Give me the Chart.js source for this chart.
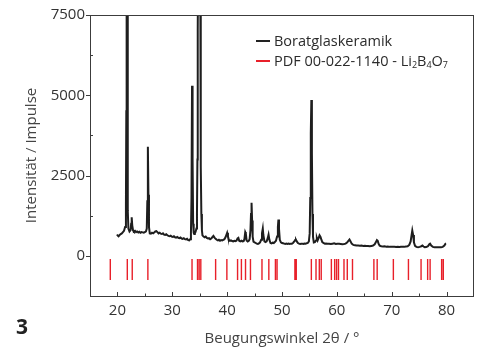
<!DOCTYPE html>
<html>
<head>
<meta charset="utf-8">
<script src="https://cdn.jsdelivr.net/npm/chart.js@4.4.1/dist/chart.umd.min.js"></script>
<style>
  html, body { margin: 0; padding: 0; background: #fff; }
  #wrap { position: relative; width: 478px; height: 349px; font-family: "Open Sans", sans-serif; }
  #xrd { position: absolute; left: 0; top: 0; }
  .leg { position: absolute; left: 256px; font-size: 14.5px; color: #2b2b2b; line-height: 18px; white-space: nowrap; }
  .leg i { display: inline-block; width: 14px; height: 2px; vertical-align: middle; margin-right: 4px; position: relative; top: -1px; }
  .leg sub { font-size: 9px; vertical-align: -2px; line-height: 0; }
  #fig { position: absolute; left: 16px; top: 312px; font-size: 21px; font-weight: bold; color: #222; }
</style>
</head>
<body>
<div id="wrap">
  <canvas id="xrd" width="478" height="349"></canvas>
  <div class="leg" style="top:32px"><i style="background:#222"></i>Boratglaskeramik</div>
  <div class="leg" style="top:52px"><i style="background:#e8202a;height:1.5px"></i>PDF 00-022-1140 - Li<sub>2</sub>B<sub>4</sub>O<sub>7</sub></div>
  <div id="fig">3</div>
</div>
<script>
// Messkurve: [2theta, Impulse]
const messung = [
  [19.9, 620], [20.0, 640], [20.2, 610], [20.4, 650], [20.6, 680], [20.8, 700], [21.0, 740], [21.2, 780],
  [21.4, 900], [21.55, 1600], [21.62, 4500], [21.68, 9000], [21.78, 9000], [21.85, 3500], [21.92, 1400],
  [22.0, 850], [22.2, 760], [22.4, 800], [22.5, 1000], [22.6, 1200], [22.7, 950], [22.85, 790],
  [23.0, 760], [23.2, 780], [23.4, 740], [23.6, 760], [23.8, 730], [24.0, 750], [24.2, 720], [24.4, 740],
  [24.6, 730], [24.8, 720], [25.0, 740], [25.2, 760], [25.35, 850], [25.45, 1700], [25.55, 3400],
  [25.65, 1900], [25.75, 900], [25.9, 700], [26.1, 690], [26.3, 720], [26.5, 700], [26.7, 730],
  [26.9, 760], [27.1, 770], [27.3, 740], [27.5, 700], [27.7, 720], [27.9, 690], [28.1, 680], [28.3, 700],
  [28.5, 660], [28.7, 650], [28.9, 670], [29.1, 640], [29.3, 620], [29.5, 610], [29.7, 630], [29.9, 600],
  [30.1, 590], [30.3, 610], [30.5, 580], [30.7, 570], [30.9, 590], [31.1, 560], [31.3, 550], [31.5, 570],
  [31.7, 540], [31.9, 530], [32.1, 550], [32.3, 520], [32.5, 510], [32.7, 530], [32.9, 490], [33.1, 480],
  [33.25, 520], [33.4, 700], [33.5, 1800], [33.6, 5300], [33.7, 3000], [33.8, 1000], [33.9, 720],
  [34.0, 680], [34.1, 690], [34.25, 750], [34.4, 850], [34.5, 1300], [34.58, 3000], [34.64, 7000],
  [34.7, 9500], [35.1, 9500], [35.16, 6000], [35.22, 2800], [35.3, 1300], [35.4, 800], [35.5, 640],
  [35.7, 600], [35.9, 580], [36.1, 600], [36.3, 560], [36.5, 540], [36.7, 550], [36.9, 520], [37.1, 540],
  [37.3, 580], [37.5, 620], [37.7, 570], [37.9, 530], [38.1, 500], [38.3, 480], [38.5, 500], [38.7, 470],
  [38.9, 490], [39.1, 480], [39.3, 500], [39.5, 520], [39.7, 580], [39.85, 650], [40.0, 720], [40.15, 600],
  [40.3, 500], [40.5, 470], [40.7, 480], [40.9, 460], [41.1, 450], [41.3, 470], [41.5, 460], [41.7, 470],
  [41.9, 540], [42.05, 560], [42.2, 470], [42.4, 450], [42.6, 470], [42.8, 450], [43.0, 460], [43.15, 520],
  [43.3, 740], [43.4, 700], [43.55, 480], [43.75, 450], [43.95, 470], [44.1, 520], [44.25, 800],
  [44.35, 1300], [44.45, 1650], [44.55, 1100], [44.65, 600], [44.8, 440], [45.0, 420], [45.2, 400],
  [45.4, 380], [45.6, 370], [45.8, 390], [46.0, 420], [46.2, 500], [46.35, 700], [46.5, 850], [46.6, 650],
  [46.8, 450], [47.0, 430], [47.2, 450], [47.4, 550], [47.55, 660], [47.7, 500], [47.9, 400], [48.1, 390],
  [48.3, 410], [48.5, 400], [48.7, 430], [48.9, 470], [49.1, 600], [49.25, 900], [49.35, 1130],
  [49.45, 850], [49.6, 500], [49.8, 420], [50.0, 400], [50.2, 390], [50.4, 380], [50.6, 370], [50.8, 380],
  [51.0, 370], [51.2, 380], [51.4, 370], [51.6, 380], [51.8, 380], [52.0, 400], [52.2, 440], [52.4, 490],
  [52.55, 500], [52.7, 450], [52.9, 400], [53.1, 380], [53.3, 370], [53.5, 375], [53.7, 380], [53.9, 370],
  [54.1, 385], [54.3, 380], [54.5, 390], [54.7, 400], [54.9, 450], [55.05, 700], [55.15, 1800],
  [55.25, 3800], [55.35, 4850], [55.45, 3200], [55.55, 1300], [55.65, 600], [55.8, 420], [56.0, 430],
  [56.2, 480], [56.35, 560], [56.5, 480], [56.65, 540], [56.85, 640], [57.0, 600], [57.15, 520],
  [57.35, 430], [57.55, 400], [57.8, 380], [58.0, 385], [58.3, 375], [58.6, 380], [58.9, 370], [59.2, 380],
  [59.5, 390], [59.8, 370], [60.1, 380], [60.4, 375], [60.7, 370], [61.0, 365], [61.3, 370], [61.6, 380],
  [61.9, 420], [62.1, 470], [62.3, 510], [62.5, 450], [62.7, 380], [63.0, 340], [63.3, 330], [63.6, 320],
  [63.9, 325], [64.2, 315], [64.5, 320], [64.8, 310], [65.1, 315], [65.4, 305], [65.7, 310], [66.0, 300],
  [66.3, 310], [66.6, 320], [66.9, 360], [67.1, 420], [67.3, 490], [67.45, 470], [67.6, 380], [67.8, 320],
  [68.1, 300], [68.4, 290], [68.7, 295], [69.0, 285], [69.3, 290], [69.6, 280], [69.9, 285], [70.2, 280],
  [70.5, 285], [70.8, 275], [71.1, 280], [71.4, 275], [71.7, 280], [72.0, 285], [72.3, 280], [72.6, 290],
  [72.9, 300], [73.2, 340], [73.45, 450], [73.6, 620], [73.75, 790], [73.9, 650], [74.05, 420],
  [74.25, 310], [74.5, 280], [74.8, 270], [75.1, 280], [75.4, 300], [75.6, 320], [75.8, 290], [76.0, 270],
  [76.3, 275], [76.6, 300], [76.85, 360], [77.0, 380], [77.2, 320], [77.5, 280], [77.8, 270], [78.1, 265],
  [78.4, 270], [78.7, 265], [79.0, 270], [79.3, 280], [79.6, 320], [79.8, 380], [79.9, 390]
];

// Referenzlinien PDF 00-022-1140 (2theta)
const pdfLinien = [18.7, 21.8, 22.7, 25.55, 33.6, 34.6, 34.9, 35.2, 37.9, 39.95, 41.9, 42.6, 43.35,
  44.25, 46.35, 47.6, 48.8, 49.1, 52.35, 52.6, 55.35, 56.2, 56.8, 57.15, 59.0, 59.6, 59.95, 60.3, 61.3,
  61.9, 62.85, 66.75, 67.35, 70.3, 73.05, 75.35, 76.55, 77.0, 79.1, 79.4];
const pdfOben = -100, pdfUnten = -750;

const xTicks = [20, 30, 40, 50, 60, 70, 80];
const xMinor = [25, 35, 45, 55, 65, 75];
const yTicks = [0, 2500, 5000, 7500];
const yMinor = [-1250, 1250, 3750, 6250];

const achsFarbe = '#3c3c3c';

const stabDaten = [];
pdfLinien.forEach(p => {
  stabDaten.push({ x: p, y: pdfOben }, { x: p, y: pdfUnten }, { x: p, y: null });
});

// Rahmen und Teilstriche
const rahmenPlugin = {
  id: 'rahmen',
  afterDraw(chart) {
    const { ctx, chartArea: a, scales: { x, y } } = chart;
    ctx.save();
    ctx.strokeStyle = achsFarbe;
    ctx.lineWidth = 1;
    ctx.strokeRect(Math.round(a.left) + 0.5, Math.round(a.top) + 0.5,
      Math.round(a.right - a.left) - 1, Math.round(a.bottom - a.top));
    ctx.beginPath();
    xTicks.forEach(v => { const px = Math.round(x.getPixelForValue(v)) + 0.5; ctx.moveTo(px, a.bottom); ctx.lineTo(px, a.bottom - 4); });
    xMinor.forEach(v => { const px = Math.round(x.getPixelForValue(v)) + 0.5; ctx.moveTo(px, a.bottom); ctx.lineTo(px, a.bottom - 2.5); });
    yTicks.forEach(v => { const py = Math.round(y.getPixelForValue(v)) + 0.5; ctx.moveTo(a.left, py); ctx.lineTo(a.left - 4, py); });
    yMinor.forEach(v => { const py = Math.round(y.getPixelForValue(v)) + 0.5; ctx.moveTo(a.left, py); ctx.lineTo(a.left + 3, py); });
    ctx.stroke();
    ctx.restore();
  }
};

new Chart(document.getElementById('xrd'), {
  type: 'line',
  data: {
    datasets: [
      {
        label: 'Boratglaskeramik',
        data: messung.map(d => ({ x: d[0], y: d[1] })),
        borderColor: '#1e1e1e',
        borderWidth: 2,
        pointRadius: 0,
        tension: 0
      },
      {
        label: 'PDF 00-022-1140 - Li2B4O7',
        data: stabDaten,
        borderColor: '#e8202a',
        borderWidth: 1.4,
        pointRadius: 0,
        spanGaps: false,
        tension: 0
      }
    ]
  },
  options: {
    responsive: false,
    animation: false,
    layout: { padding: { top: 15, right: 4, left: 0, bottom: 0 } },
    plugins: { legend: { display: false }, tooltip: { enabled: false } },
    scales: {
      x: {
        type: 'linear',
        min: 15, max: 85,
        afterBuildTicks: s => { s.ticks = xTicks.map(v => ({ value: v })); },
        afterFit: s => { s.height = 53; },
        grid: { display: false, drawTicks: false },
        border: { display: false },
        ticks: { color: '#333', font: { family: 'Open Sans', size: 15 }, padding: 6, maxRotation: 0,
          callback: v => String(v) },
        title: {
          display: true, text: 'Beugungswinkel 2\u03b8 / \u00b0', color: '#444',
          font: { family: 'Open Sans', size: 15 }, padding: { top: 0, bottom: 1 }
        }
      },
      y: {
        min: -1250, max: 7500,
        afterBuildTicks: s => { s.ticks = yTicks.map(v => ({ value: v })); },
        afterFit: s => { s.width = 90; },
        grid: { display: false, drawTicks: false },
        border: { display: false },
        ticks: { color: '#333', font: { family: 'Open Sans', size: 15 }, padding: 5,
          callback: v => String(v) },
        title: {
          display: true, text: 'Intensit\u00e4t / Impulse', color: '#444',
          font: { family: 'Open Sans', size: 15 }, padding: { top: 23, bottom: 0 }
        }
      }
    }
  },
  plugins: [rahmenPlugin]
});
</script>
</body>
</html>
